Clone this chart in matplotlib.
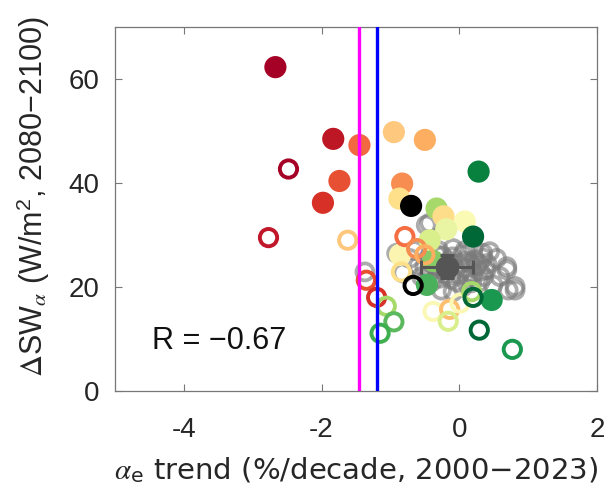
import matplotlib
matplotlib.use("Agg")
import matplotlib.pyplot as plt
import numpy as np

plt.rcParams['font.family'] = ['Liberation Sans', 'DejaVu Sans']
plt.rcParams['mathtext.fontset'] = 'stix'

# Filled markers (models, colored)
filled_x = [-2.67, -1.83, -1.45, -0.95, -0.50, -1.74, -1.98, -0.83, -0.87, -0.70,
            0.28, -0.33, -0.23, 0.08, -0.19, 0.20, -0.43, -0.86, 0.47, -0.47, -0.38]
filled_y = [62.3, 48.5, 47.3, 49.8, 48.3, 40.4, 36.2, 39.9, 37.0, 35.6,
            42.2, 35.1, 33.6, 32.6, 31.1, 29.7, 29.0, 26.2, 17.5, 20.4, 25.0]
filled_c = ['#a50026', '#bd1726', '#f26841', '#fec97e', '#fdae61', '#e75032', '#d73027',
            '#f88d52', '#fee08b', '#000000', '#08803e', '#a6d96a', '#fedd8a', '#fafab4',
            '#eaf5a4', '#006837', '#d9ef8b', '#fbf3b0', '#1a9850', '#4bb05c', '#86cb66']

# Hollow markers (colored)
hollow_x = [-2.48, -2.77, -1.62, -1.35, -1.20, -1.06, -0.95, -1.15, -0.79, -0.62,
            -0.50, -0.84, -0.67, -0.38, -0.14, -0.16, 0.01, 0.18, 0.20, 0.29, 0.77]
hollow_y = [42.7, 29.5, 29.0, 21.3, 18.0, 16.3, 13.3, 11.1, 29.7, 27.4,
            26.2, 22.9, 20.3, 15.3, 15.7, 13.4, 16.9, 19.1, 18.0, 11.7, 8.0]
hollow_c = ['#a50026', '#c0182a', '#fec77c', '#e8502f', '#d73027', '#a6d96a', '#5cb85c',
            '#3fae4f', '#f46d43', '#f88d52', '#fdae61', '#fee08b', '#000000', '#fbf7b4',
            '#fdbf6f', '#d9ef8b', '#fbf7b4', '#a6d96a', '#006837', '#006837', '#1a9850']

# Gray hollow markers (large ensemble)
gray_x = [-1.37, -0.43, -0.48, -0.91, -0.72, -0.82, -0.43, -0.33, -0.28, -0.26, -0.09,
          -0.09, -0.04, 0.05, 0.10, 0.20, 0.20, 0.30, 0.34, 0.34, 0.39, 0.44, 0.49,
          0.54, 0.59, 0.69, 0.69, 0.71, 0.81, 0.81, -0.60, -0.15, 0.00, 0.15, 0.25,
          -0.55, -0.20, 0.05, 0.40, -0.65,
          -0.45, -0.35, -0.25, -0.10, 0.00, 0.10, 0.22, 0.30, -0.40, -0.30, -0.12,
          0.12, 0.28, -0.50, -0.05, 0.18, -0.30, 0.08, 0.35, -0.20]
gray_y = [22.9, 32.3, 31.9, 26.5, 25.5, 22.7, 22.9, 26.2, 21.7, 19.4, 27.4,
          19.1, 21.0, 26.2, 23.6, 27.5, 22.6, 21.0, 25.6, 26.5, 23.3, 26.8, 20.4,
          25.5, 22.0, 23.9, 23.3, 19.4, 20.1, 19.4, 24.0, 25.0, 24.5, 24.6, 24.0,
          22.0, 22.5, 20.0, 24.5, 27.0,
          25.5, 24.0, 26.0, 25.8, 22.5, 25.0, 25.2, 23.0, 21.0, 23.5, 21.5,
          21.8, 24.5, 23.8, 23.5, 20.8, 27.0, 27.0, 22.0, 24.5]

# Multi-model mean with spread
mean_x, mean_y = -0.18, 23.9
mean_xerr, mean_yerr = 0.38, 2.2

# Observed trends (vertical lines)
obs_magenta = -1.45
obs_blue = -1.20

R_text = 'R = \u22120.67'
xlabel_text = r'$\alpha_{\mathregular{e}}$' + ' trend (%/decade, 2000\u22122023)'
ylabel_text = r'$\Delta$SW$_{\alpha}$ (W/m$^{\mathregular{2}}$' + ', 2080\u22122100)'

fig = plt.figure(figsize=(6.08, 4.93), dpi=100)
ax = fig.add_axes([0.189, 0.207, 0.793, 0.738])

ax.scatter(gray_x, gray_y, s=150, facecolors='none', edgecolors='#7a7a7a',
           linewidths=2.7, alpha=0.62, zorder=2)
ax.scatter(filled_x, filled_y, s=255, c=filled_c, edgecolors='none', zorder=3)
ax.scatter(hollow_x, hollow_y, s=155, facecolors='none', edgecolors=hollow_c,
           linewidths=2.8, zorder=4)
ax.errorbar([mean_x], [mean_y], xerr=[mean_xerr], yerr=[mean_yerr], fmt='o',
            color='#555555', ms=16, mec='#555555', elinewidth=2.2, capsize=5,
            capthick=2.2, zorder=5)

ax.axvline(obs_magenta, color='#ff00ff', lw=2.4, zorder=6)
ax.axvline(obs_blue, color='#0000ff', lw=2.4, zorder=6)

ax.text(-4.46, 9.7, R_text, fontsize=22, color='#111111', va='center', ha='left')

ax.set_xlim(-5, 2)
ax.set_ylim(0, 70)
ax.set_xticks([-4, -2, 0, 2])
ax.set_xticklabels(['-4', '-2', '0', '2'])
ax.set_yticks([0, 20, 40, 60])
ax.tick_params(direction='in', top=True, right=True, length=5, width=0.8,
               color='#777777', labelsize=20, labelcolor='#262626')
ax.tick_params(axis='x', pad=19)
ax.tick_params(axis='y', pad=11)
for sp in ax.spines.values():
    sp.set_color('#777777')
    sp.set_linewidth(0.9)

ax.set_xlabel(xlabel_text, fontsize=21, color='#262626', family='DejaVu Sans')
ax.set_ylabel(ylabel_text, fontsize=22, color='#262626')
ax.xaxis.set_label_coords(0.5, -0.176)
ax.yaxis.set_label_coords(-0.13, 0.534)

fig.savefig('out.png', dpi=100)
